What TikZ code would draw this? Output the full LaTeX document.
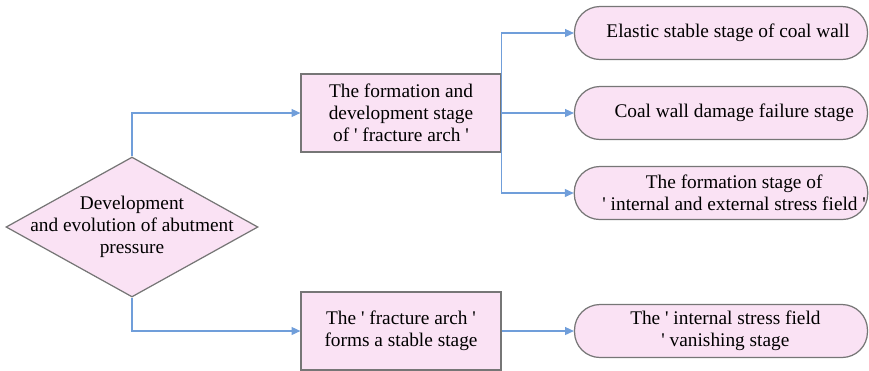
\documentclass[tikz,border=0pt]{standalone}
\usepackage{fontspec}
\setmainfont{Liberation Serif}[Ligatures=TeXReset]
\newfontfamily\chartfont{Liberation Serif}[Ligatures=TeXReset]
\usetikzlibrary{positioning, arrows.meta, shapes.geometric}
\definecolor{stagefill}{RGB}{250,226,244}
\definecolor{stageedge}{RGB}{118,118,118}
\definecolor{linkblue}{RGB}{112,158,218}
\newcommand{\apos}{\textquotesingle}

\begin{document}
\begin{tikzpicture}[
  x=0.02cm, y=-0.02cm,
  font=\chartfont\fontsize{11}{12.5}\selectfont,
  base/.style={draw=stageedge, fill=stagefill, line width=0.7pt},
  rootbox/.style={base, diamond, minimum width=5.04cm, minimum height=2.8cm, inner sep=0pt},
  phase/.style={base, rectangle, minimum width=4cm, minimum height=1.56cm, align=center},
  stage/.style={base, rounded corners=14.5pt, minimum width=5.86cm, minimum height=1.06cm,
    inner xsep=1pt, align=center},
  link/.style={-{Triangle[length=5pt, width=4.5pt]}, draw=linkblue, line width=0.7pt},
]
  \useasboundingbox (0,0) rectangle (869,370);

  % Root of the tree
  \node[rootbox] (root) at (132,227) {};
  \node[align=center] (rootlabel) at (root) {Development\\and evolution of abutment\\pressure};

  % Middle level
  \node[phase] (arch) at (401,113) {The formation and\\development stage\\of \apos{} fracture arch \apos};
  \node[phase] (stable) at (401,331) {The \apos{} fracture arch \apos\\forms a stable stage};

  % Right level
  \node[stage] (elastic) at (721,33) {\hspace*{8pt}Elastic stable stage of coal wall};
  \node[stage] (damage) at (721,113) {\hspace*{15pt}Coal wall damage failure stage};
  \node[stage] (stress) at (721,193) {\hspace*{15pt}The formation stage of\\
    \hspace*{15pt}\apos{} internal and external stress field \apos};
  \node[stage] (vanish) at (721,331) {\hspace*{5pt}The \apos{} internal stress field\\
    \hspace*{5pt}\apos{} vanishing stage};

  % Connectors
  \draw[link] (root.north) |- (arch.west);
  \draw[link] (root.south) |- (stable.west);
  \draw[link] (arch.east) |- (elastic.west);
  \draw[link] (arch.east) -- (damage.west);
  \draw[link] (arch.east) |- (stress.west);
  \draw[link] (stable.east) -- (vanish.west);
\end{tikzpicture}
\end{document}
